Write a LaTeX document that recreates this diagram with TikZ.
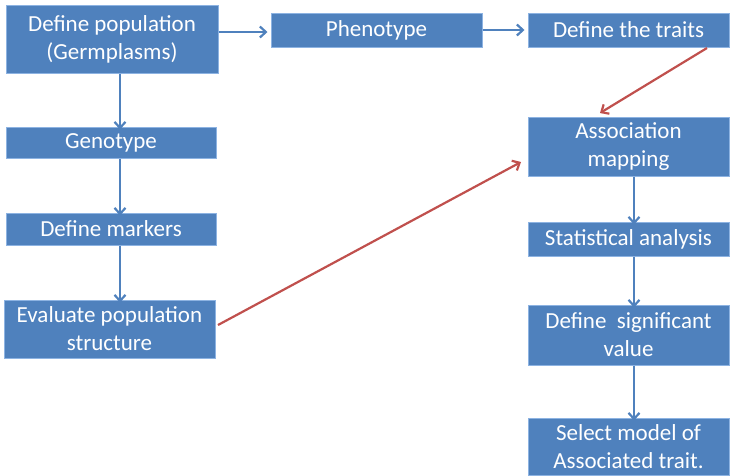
\documentclass[tikz,border=0pt]{standalone}
\usepackage{fontspec}
\setmainfont{Carlito}
\usetikzlibrary{arrows.meta}
\definecolor{boxblue}{HTML}{4F81BD}
\definecolor{boxedge}{HTML}{8DB3E2}
\definecolor{arrred}{HTML}{C0504D}
\begin{document}
\begin{tikzpicture}[x=1pt,y=-1pt,
  box/.style={draw=boxedge,line width=1pt,fill=boxblue,text=white,align=center,inner sep=0pt,
    font=\fontsize{23}{28}\selectfont},
  barr/.style={draw=boxblue,line width=2.2pt,-{Straight Barb[length=6pt,width=11pt,line width=2.2pt]}},
  rarr/.style={draw=arrred,line width=2.2pt,-{Straight Barb[length=6pt,width=11pt,line width=2.2pt]}}]
\useasboundingbox (0,0) rectangle (730,475);
\node[box,minimum width=212pt,minimum height=68pt] (pop) at (112,39) {Define population\\(Germplasms)};
\node[box,minimum width=211pt,minimum height=34pt] (phen) at (376.5,30) {Phenotype};
\node[box,minimum width=201pt,minimum height=34pt] (traits) at (628.5,30) {Define the traits};
\node[box,minimum width=210pt,minimum height=31pt] (geno) at (111,142.5) {Genotype};
\node[box,minimum width=210pt,minimum height=32pt] (mark) at (111,229) {Define markers};
\node[box,minimum width=211pt,minimum height=58pt] (eval) at (109.5,329) {Evaluate population\\structure};
\node[box,minimum width=201pt,minimum height=59pt] (assoc) at (628.5,146.5) {Association\\mapping};
\node[box,minimum width=201pt,minimum height=34pt] (stat) at (628.5,239) {Statistical analysis};
\node[box,minimum width=201pt,minimum height=60pt] (sig) at (628.5,335) {Define\ \ significant\\value};
\node[box,minimum width=201pt,minimum height=57pt] (sel) at (628.5,446.5) {Select model of\\Associated trait.};
\draw[barr] (pop.east |- 0,32) -- ([xshift=-3pt]phen.west |- 0,32);
\draw[barr] (phen.east) -- ([xshift=-3pt]traits.west);
\draw[barr] (pop.south -| 120,0) -- ([yshift=-3pt]geno.north -| 120,0);
\draw[barr] (geno.south -| 120,0) -- ([yshift=-3pt]mark.north -| 120,0);
\draw[barr] (mark.south -| 120,0) -- ([yshift=-3pt]eval.north -| 120,0);
\draw[barr] (assoc.south -| 634,0) -- ([yshift=-3pt]stat.north -| 634,0);
\draw[barr] (stat.south -| 634,0) -- ([yshift=-3pt]sig.north -| 634,0);
\draw[barr] (sig.south -| 634,0) -- ([yshift=-3pt]sel.north -| 634,0);
\coordinate (t1) at (707,48);
\coordinate (t2) at (600,113);
\draw[rarr] (t1) -- (t2);
\coordinate (e1) at (218,325);
\coordinate (e2) at (521,162);
\draw[rarr] (e1) -- (e2);
\end{tikzpicture}
\end{document}
